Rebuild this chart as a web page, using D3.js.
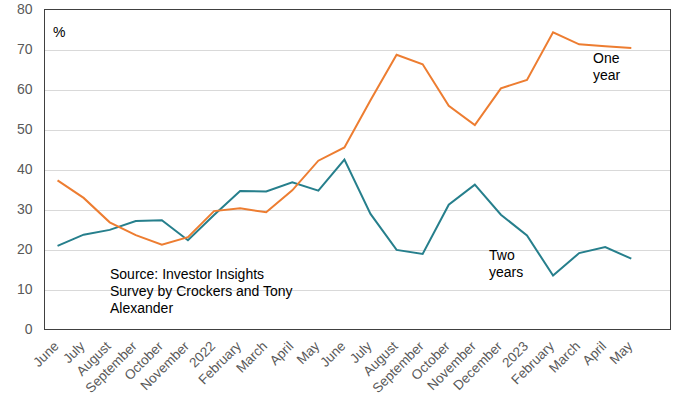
<!DOCTYPE html>
<html>
<head>
<meta charset="utf-8">
<script src="https://cdn.jsdelivr.net/npm/d3@7"></script>
<style>
  body { margin: 0; background: #fff; }
  text { font-family: "Liberation Sans", Arial, sans-serif; }
</style>
</head>
<body>
<div id="main"></div>
<script>
var months = ["June", "July", "August", "September", "October", "November", "2022",
  "February", "March", "April", "May", "June", "July", "August", "September", "October",
  "November", "December", "2023", "February", "March", "April", "May"];
var oneYear = [37.3, 32.9, 26.8, 23.6, 21.2, 23.1, 29.6, 30.3, 29.3, 34.8, 42.2, 45.5,
  57.3, 68.7, 66.3, 55.9, 51.1, 60.3, 62.4, 74.3, 71.3, 70.8, 70.4];
var twoYears = [20.9, 23.7, 24.9, 27.1, 27.3, 22.3, 28.6, 34.6, 34.5, 36.8, 34.7, 42.5,
  28.9, 19.9, 18.9, 31.2, 36.2, 28.7, 23.5, 13.5, 19.1, 20.6, 17.7];
var yTicks = [0, 10, 20, 30, 40, 50, 60, 70, 80];

var width = 678, height = 401;
var plotLeft = 44.5, plotRight = 670.5, plotTop = 9.5, plotBottom = 329.5;

var svg = d3.select("#main").append("svg")
  .attr("width", width).attr("height", height);

var x = d3.scalePoint().domain(d3.range(months.length))
  .range([plotLeft + 13.04, plotLeft + 13.04 + 22 * 26.08]);
var y = d3.scaleLinear().domain([0, 80]).range([plotBottom, plotTop]);

// grid
svg.append("g").selectAll("line").data(yTicks.filter(function (d) { return d > 0 && d < 80; }))
  .enter().append("line")
  .attr("x1", plotLeft).attr("x2", plotRight)
  .attr("y1", function (d) { return Math.round(y(d)) + 0.5; })
  .attr("y2", function (d) { return Math.round(y(d)) + 0.5; })
  .attr("stroke", "#d9d9d9").attr("stroke-width", 1);

// y axis labels
var yAxis = d3.axisLeft(y).tickValues(yTicks).tickSize(0).tickPadding(12);
var yg = svg.append("g").attr("transform", "translate(" + plotLeft + ",0)").call(yAxis);
yg.select(".domain").remove();
yg.selectAll("text").attr("fill", "#595959").style("font-size", "14px")
  .style("font-family", "Liberation Sans, Arial, sans-serif");

// x axis labels
var xg = svg.append("g");
xg.selectAll("text").data(months).enter().append("text")
  .attr("transform", function (d, i) { return "translate(" + (x(i) + 2) + "," + 347 + ") rotate(-45)"; })
  .attr("text-anchor", "end")
  .attr("fill", "#595959").style("font-size", "13.5px")
  .text(function (d) { return d; });

// lines
var line = d3.line()
  .x(function (d, i) { return x(i); })
  .y(function (d) { return y(d); });

svg.append("path").datum(twoYears).attr("d", line)
  .attr("fill", "none").attr("stroke", "#267f8c").attr("stroke-width", 2);
svg.append("path").datum(oneYear).attr("d", line)
  .attr("fill", "none").attr("stroke", "#ed7d31").attr("stroke-width", 2);

// frame
svg.append("rect").attr("x", plotLeft).attr("y", plotTop)
  .attr("width", plotRight - plotLeft).attr("height", plotBottom - plotTop)
  .attr("fill", "none").attr("stroke", "#404040").attr("stroke-width", 1);

// annotations
function note(lines, tx, ty) {
  var t = svg.append("text").attr("x", tx).attr("y", ty)
    .attr("fill", "#000").style("font-size", "14px");
  lines.forEach(function (s, i) {
    t.append("tspan").attr("x", tx).attr("dy", i == 0 ? 0 : 17).text(s);
  });
}
note(["%"], 53, 37);
note(["One", "year"], 593, 63);
note(["Two", "years"], 489, 260);
note(["Source: Investor Insights", "Survey by Crockers and Tony", "Alexander"], 110, 279);
</script>
</body>
</html>
